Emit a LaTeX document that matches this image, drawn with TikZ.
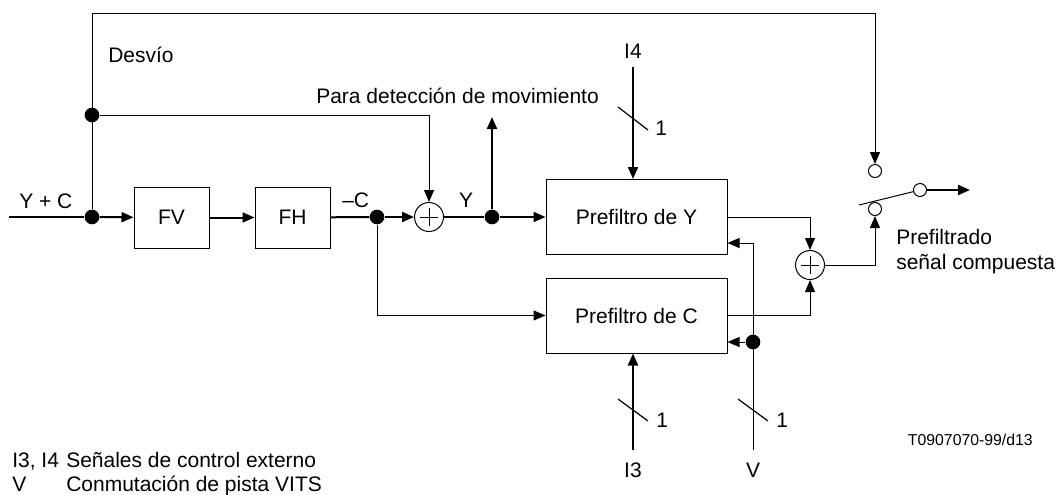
\documentclass[tikz,border=0pt]{standalone}
\usepackage{fontspec}
\setmainfont{Liberation Sans}
\usetikzlibrary{arrows.meta}
\begin{document}
\begin{tikzpicture}[x=0.75pt,y=-0.75pt,
  font=\fontsize{15.75}{18}\selectfont,
  thinl/.style={line width=0.75pt},
  sig/.style={line width=1.5pt},
  arr/.style={-{Triangle[length=9pt,width=7.5pt]}},
  dot/.style={circle,fill,inner sep=0pt,minimum size=11pt},
  box/.style={draw,line width=0.75pt,minimum width=56.25pt,minimum height=45.75pt,inner sep=0pt},
  pbox/.style={draw,line width=0.75pt,minimum width=135.75pt,minimum height=56.25pt,inner sep=0pt},
  sum/.style={circle,draw,line width=0.75pt,minimum size=21.75pt,inner sep=0pt,
    path picture={
      \draw[line width=0.75pt] ([xshift=-6.5pt]path picture bounding box.center) -- ([xshift=6.5pt]path picture bounding box.center);
      \draw[line width=0.75pt] ([yshift=-6.5pt]path picture bounding box.center) -- ([yshift=6.5pt]path picture bounding box.center);}},
  contact/.style={circle,draw,line width=0.75pt,minimum size=9.75pt,inner sep=0pt},
  lbl/.style={inner sep=0pt,anchor=base west},
  slash/.style={line width=0.9pt}]
\useasboundingbox (0,0) rectangle (1058,494);

% nodes
\coordinate (in) at (9,217);
\node[dot] (j1) at (92,217) {};
\node[dot] (j2) at (92,115) {};
\coordinate (tl) at (92,13);
\coordinate (tr) at (875,13);
\node[box] (FV) at (171.5,217.5) {FV};
\node[box] (FH) at (292.5,217.5) {FH};
\node[dot] (j3) at (377,217) {};
\node[sum] (s1) at (429,217) {};
\node[dot] (j4) at (492,217) {};
\coordinate (mo) at (492,117);
\node[pbox] (PY) at (636.5,217) {Prefiltro de Y};
\node[pbox] (PC) at (636.5,315.5) {Prefiltro de C};
\node[sum] (s2) at (810,265) {};
\node[contact] (c1) at (875,171) {};
\node[contact] (c2) at (875,209) {};
\node[contact] (c3) at (920,190) {};
\coordinate (swa) at (859,205);
\coordinate (out) at (970,190);
\coordinate (i4s) at (633,67);
\coordinate (i3s) at (633,450);
\coordinate (vb) at (753,450);
\coordinate (vt) at (753,243);
\node[dot] (j5) at (753,342) {};

% connectors
\draw[sig] (in) -- (j1);
\draw[sig,arr] (j1) -- (FV);
\draw[thinl,arr] (j1) -- (tl) -- (tr) -- (c1);
\draw[thinl,arr] (j2) -| (s1);
\draw[sig,arr] (FV) -- (FH);
\draw[sig] (FH) -- (j3);
\draw[sig,arr] (j3) -- (s1);
\draw[sig] (s1) -- (j4);
\draw[sig,arr] (j4) -- (PY.west);
\draw[sig,arr] (j4) -- (mo);
\draw[thinl,arr] (j3) |- (PC.west);
\draw[sig,arr] (i4s) -- (i4s |- PY.north);
\draw[sig,arr] (i3s) -- (i3s |- PC.south);
\draw[thinl,arr] (PY.east) -| (s2);
\draw[thinl,arr] (PC.east) -| (s2);
\draw[thinl,arr] (s2) -| (c2);
\draw[thinl] (swa) -- (c3);
\draw[sig,arr] (c3) -- (out);
\draw[thinl] (vb) -- (vt);
\draw[thinl,arr] (vt) -- (vt -| PY.east);
\draw[thinl,arr] (j5) -- (j5 -| PC.east);

% bus slashes
\draw[slash] (618,107) -- (648,130);
\draw[slash] (618,399) -- (648,421);
\draw[slash] (738,399) -- (768,421);

% labels
\node[lbl] (tDes) at (108,62) {Desvío};
\node[lbl] (tPara) at (316,103) {Para detección de movimiento};
\node[lbl] (tYC) at (19,208) {Y + C};
\node[lbl] (tC) at (342,207) {–C};
\node[inner sep=0pt,anchor=base] (tY) at (466,207) {Y};
\node[inner sep=0pt,anchor=base] (tI4) at (633,58) {I4};
\node[lbl] (t1a) at (655,135) {1};
\node[lbl] (t1b) at (656,427) {1};
\node[lbl] (t1c) at (776,427) {1};
\node[inner sep=0pt,anchor=base] (tI3) at (633,477) {I3};
\node[inner sep=0pt,anchor=base] (tV) at (753,477) {V};
\node[lbl] (tPre) at (896,244) {Prefiltrado};
\node[lbl] (tSen) at (896,269) {señal compuesta};
\node[lbl] (tL1a) at (12,467) {I3, I4};
\node[lbl] (tL1b) at (66,467) {Señales de control externo};
\node[lbl] (tL2a) at (12,491) {V};
\node[lbl] (tL2b) at (66,491) {Conmutación de pista VITS};
\node[inner sep=0pt,anchor=base east,font=\fontsize{11.85}{14}\selectfont] (tCode) at (1033,445) {T0907070-99/d13};
\end{tikzpicture}
\end{document}
